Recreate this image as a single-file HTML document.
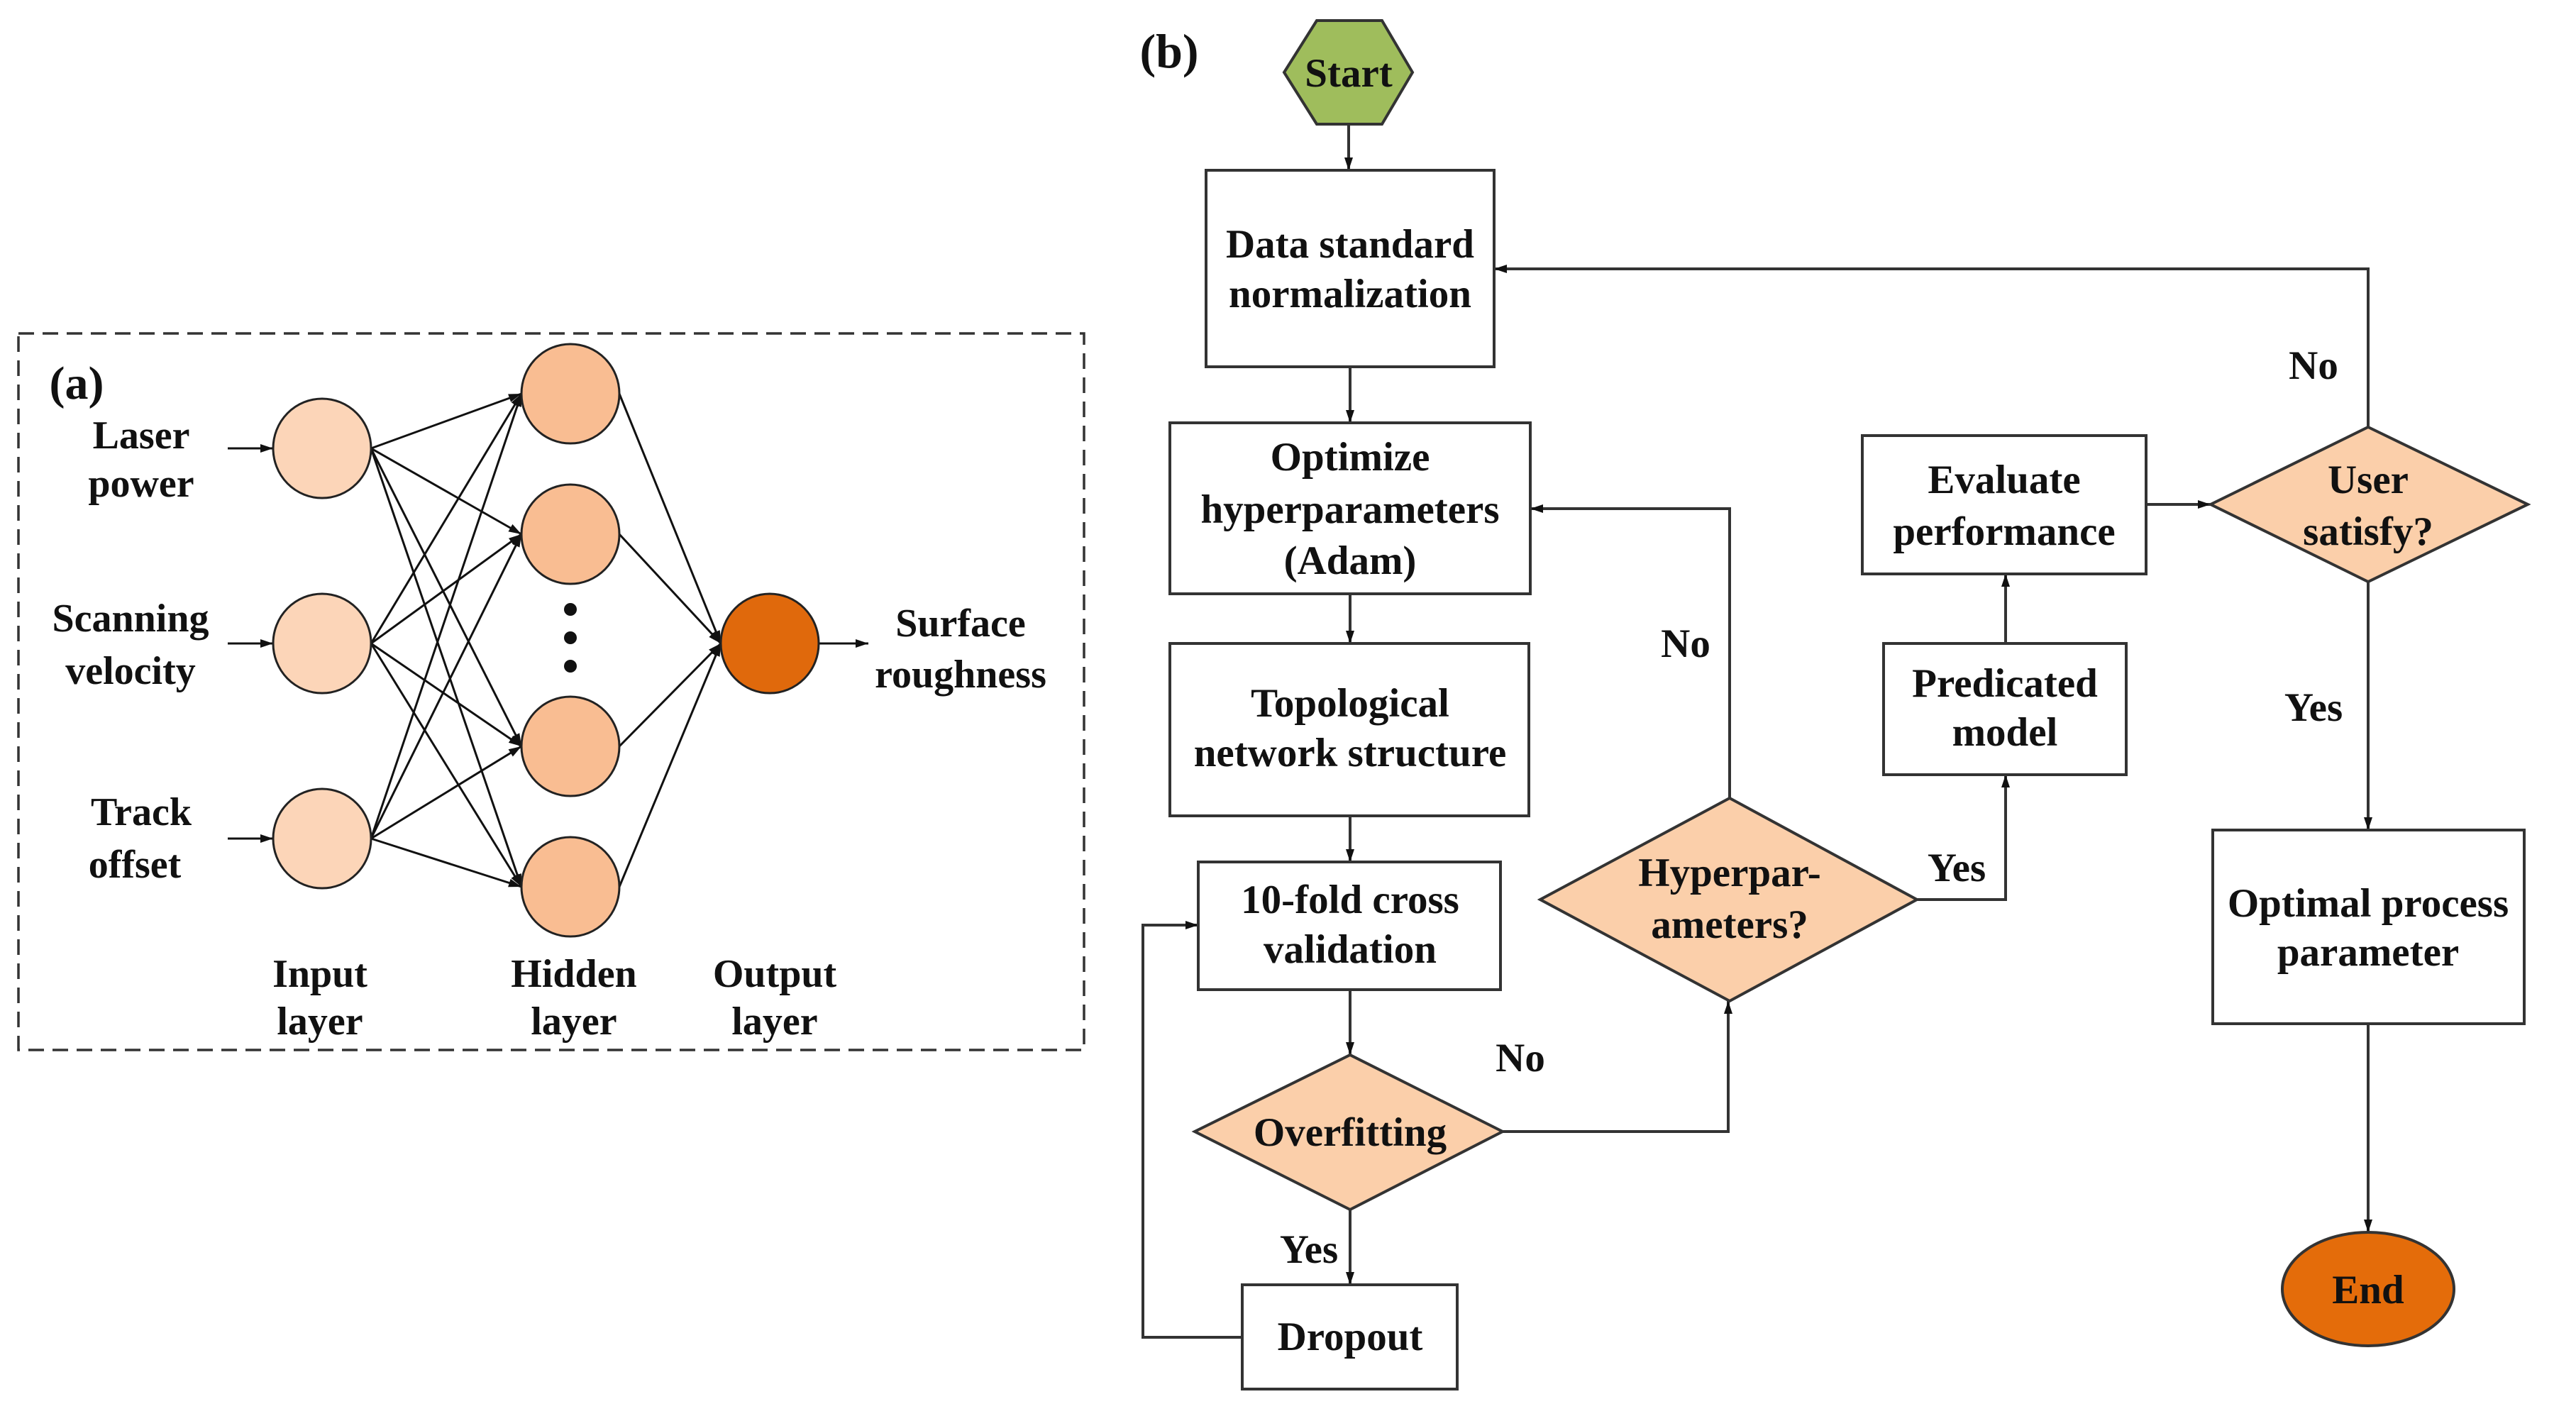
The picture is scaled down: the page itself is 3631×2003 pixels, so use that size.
<!DOCTYPE html>
<html><head><meta charset="utf-8"><style>
html,body{margin:0;padding:0;background:#fff;}
svg{display:block;font-family:"Liberation Serif","Times New Roman","DejaVu Serif",serif;}
svg text{font-family:"Liberation Serif","Times New Roman","DejaVu Serif",serif;font-weight:bold;fill:#111;text-anchor:middle;}
</style></head><body>
<svg width="3631" height="2003" viewBox="0 0 3631 2003" xmlns="http://www.w3.org/2000/svg" font-family="Liberation Serif, Times New Roman, DejaVu Serif, serif" font-weight="bold">
<defs>
<marker id="ar" markerUnits="userSpaceOnUse" markerWidth="18" markerHeight="12" refX="18" refY="6" orient="auto">
<path d="M0,0 L18,6 L0,12 z" fill="#111"/></marker>
</defs>
<!-- Panel (a) -->
<rect x="26" y="470" width="1502" height="1010" fill="none" stroke="#333" stroke-width="3.5" stroke-dasharray="22,12"/>
<text x="108" y="562" font-size="66" font-family="Liberation Serif, serif">(a)</text>
<g stroke="#111" stroke-width="3" fill="none" marker-end="url(#ar)">
<line x1="321" y1="632" x2="385" y2="632"/>
<line x1="321" y1="907" x2="385" y2="907"/>
<line x1="321" y1="1182" x2="385" y2="1182"/>
<line x1="1154" y1="907" x2="1224" y2="907"/>
<line x1="523" y1="632" x2="735" y2="555"/><line x1="523" y1="632" x2="735" y2="753"/><line x1="523" y1="632" x2="735" y2="1052"/><line x1="523" y1="632" x2="735" y2="1250"/>
<line x1="523" y1="907" x2="735" y2="555"/><line x1="523" y1="907" x2="735" y2="753"/><line x1="523" y1="907" x2="735" y2="1052"/><line x1="523" y1="907" x2="735" y2="1250"/>
<line x1="523" y1="1182" x2="735" y2="555"/><line x1="523" y1="1182" x2="735" y2="753"/><line x1="523" y1="1182" x2="735" y2="1052"/><line x1="523" y1="1182" x2="735" y2="1250"/>
<line x1="873" y1="555" x2="1016" y2="907"/><line x1="873" y1="753" x2="1016" y2="907"/><line x1="873" y1="1052" x2="1016" y2="907"/><line x1="873" y1="1250" x2="1016" y2="907"/>
</g>
<g stroke="#222" stroke-width="3">
<ellipse cx="454" cy="632" rx="69" ry="70" fill="#fcd5b8"/>
<ellipse cx="454" cy="907" rx="69" ry="70" fill="#fcd5b8"/>
<ellipse cx="454" cy="1182" rx="69" ry="70" fill="#fcd5b8"/>
<ellipse cx="804" cy="555" rx="69" ry="70" fill="#f9bd92"/>
<ellipse cx="804" cy="753" rx="69" ry="70" fill="#f9bd92"/>
<ellipse cx="804" cy="1052" rx="69" ry="70" fill="#f9bd92"/>
<ellipse cx="804" cy="1250" rx="69" ry="70" fill="#f9bd92"/>
<ellipse cx="1085" cy="907" rx="69" ry="70" fill="#e0690c"/>
</g>
<circle cx="804" cy="859" r="9" fill="#111"/><circle cx="804" cy="899" r="9" fill="#111"/><circle cx="804" cy="939" r="9" fill="#111"/>
<g font-size="56" font-family="Liberation Serif, serif">
<text x="199" y="632">Laser</text><text x="199" y="700">power</text>
<text x="184" y="890">Scanning</text><text x="184" y="964">velocity</text>
<text x="199" y="1163">Track</text><text x="190" y="1237">offset</text>
<text x="1354" y="897">Surface</text><text x="1354" y="969">roughness</text>
<text x="451" y="1391">Input</text><text x="451" y="1458">layer</text>
<text x="809" y="1391">Hidden</text><text x="809" y="1458">layer</text>
<text x="1092" y="1391">Output</text><text x="1092" y="1458">layer</text>
</g>
<!-- Panel (b) -->
<text x="1648" y="95" font-size="68" font-family="Liberation Serif, serif">(b)</text>
<g stroke="#333" stroke-width="4" fill="none" marker-end="url(#ar)">
<line x1="1901" y1="175" x2="1901" y2="240"/>
<line x1="1903" y1="517" x2="1903" y2="596"/>
<line x1="1903" y1="837" x2="1903" y2="907"/>
<line x1="1903" y1="1150" x2="1903" y2="1215"/>
<line x1="1903" y1="1395" x2="1903" y2="1487"/>
<line x1="1903" y1="1705" x2="1903" y2="1811"/>
<polyline points="1751,1885 1611,1885 1611,1304 1689,1304"/>
<polyline points="2118,1595 2436,1595 2436,1411"/>
<polyline points="2438,1125 2438,717 2157,717"/>
<polyline points="2702,1268 2827,1268 2827,1092"/>
<line x1="2827" y1="907" x2="2827" y2="809"/>
<line x1="3025" y1="711" x2="3116" y2="711"/>
<polyline points="3338,602 3338,379 2106,379"/>
<line x1="3338" y1="820" x2="3338" y2="1170"/>
<line x1="3338" y1="1443" x2="3338" y2="1737"/>
</g>
<g stroke="#333" stroke-width="4">
<polygon points="1856,29 1948,29 1991,102 1948,175 1856,175 1810,102" fill="#9fbd5c"/>
<rect x="1700" y="240" width="406" height="277" fill="#fff"/>
<rect x="1649" y="596" width="508" height="241" fill="#fff"/>
<rect x="1649" y="907" width="506" height="243" fill="#fff"/>
<rect x="1689" y="1215" width="426" height="180" fill="#fff"/>
<polygon points="1903,1487 2118,1595 1903,1705 1684,1595" fill="#fbcfaa"/>
<rect x="1751" y="1811" width="303" height="147" fill="#fff"/>
<polygon points="2438,1125 2702,1268 2438,1411 2171,1268" fill="#fbcfaa"/>
<rect x="2655" y="907" width="342" height="185" fill="#fff"/>
<rect x="2625" y="614" width="400" height="195" fill="#fff"/>
<polygon points="3338,602 3563,711 3338,820 3116,711" fill="#fbcfaa"/>
<rect x="3119" y="1170" width="439" height="273" fill="#fff"/>
<ellipse cx="3338" cy="1817" rx="121" ry="80" fill="#e46c0a"/>
</g>
<g font-size="57" font-family="Liberation Serif, serif">
<text x="1901" y="122">Start</text>
<text x="1903" y="363">Data standard</text><text x="1903" y="433">normalization</text>
<text x="1903" y="663">Optimize</text><text x="1903" y="737">hyperparameters</text><text x="1903" y="809">(Adam)</text>
<text x="1903" y="1010">Topological</text><text x="1903" y="1080">network structure</text>
<text x="1903" y="1287">10-fold cross</text><text x="1903" y="1357">validation</text>
<text x="1903" y="1615">Overfitting</text>
<text x="1903" y="1903">Dropout</text>
<text x="2438" y="1249">Hyperpar-</text><text x="2438" y="1322">ameters?</text>
<text x="2826" y="982">Predicated</text><text x="2826" y="1051">model</text>
<text x="2825" y="695">Evaluate</text><text x="2825" y="768">performance</text>
<text x="3338" y="695">User</text><text x="3338" y="768">satisfy?</text>
<text x="3338" y="1292">Optimal process</text><text x="3338" y="1361">parameter</text>
<text x="3338" y="1837">End</text>
<text x="2376" y="926">No</text>
<text x="2143" y="1510">No</text>
<text x="1845" y="1780">Yes</text>
<text x="2758" y="1242">Yes</text>
<text x="3261" y="534">No</text>
<text x="3261" y="1016">Yes</text>
</g>
</svg>
</body></html>
